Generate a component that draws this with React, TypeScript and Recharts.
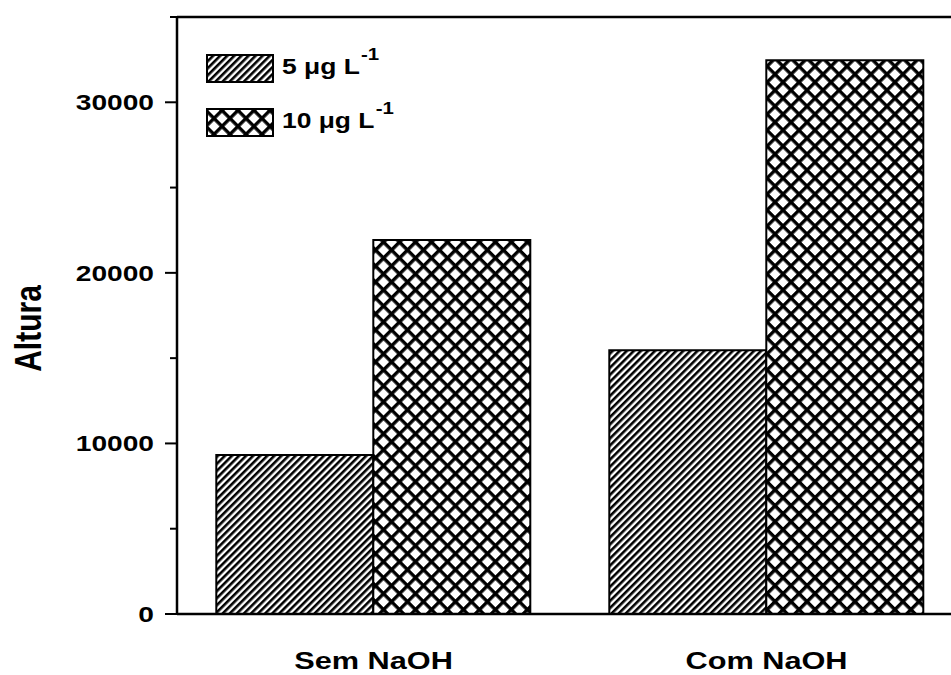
import React from 'react';
import { BarChart, Bar, XAxis, YAxis, ReferenceLine } from 'recharts';

const categories = ['Sem NaOH', 'Com NaOH'];
const conc5 = [9320, 15470];
const conc10 = [21920, 32470];
const yTicks = [0, 5000, 10000, 15000, 20000, 25000, 30000, 35000];
const yMax = 35000;
const seriesLabels = ['5 μg L', '10 μg L'];
const unitExponent = '-1';

const data = categories.map((name, i) => ({ name, c5: conc5[i], c10: conc10[i] }));

const FONT = '"Liberation Sans", Arial, sans-serif';
// the source picture is stretched sideways, so text gets a horizontal scale
const STRETCH = 1.28;

const Patterns = ({ prefix }: { prefix: string }) => (
  <defs>
    <pattern id={`${prefix}-hatch`} width={5} height={5} patternUnits="userSpaceOnUse" patternTransform="rotate(-45)">
      <rect width={5} height={5} fill="#fff" />
      <rect width={5} height={2.6} fill="#000" />
    </pattern>
    <pattern id={`${prefix}-cross`} width={11.3} height={11.3} patternUnits="userSpaceOnUse" patternTransform="rotate(45)">
      <rect width={11.3} height={11.3} fill="#fff" />
      <rect width={11.3} height={3.4} fill="#000" />
      <rect width={3.4} height={11.3} fill="#000" />
    </pattern>
  </defs>
);

const YTick = ({ x, y, payload }: any) => {
  const major = payload.value % 10000 === 0;
  return (
    <g>
      <line x1={x} x2={x - (major ? 12 : 7)} y1={y} y2={y} stroke="#000" strokeWidth={2} />
      {major && (
        <text
          transform={`translate(${x - 23},${y}) scale(${STRETCH},1)`}
          dy="0.36em"
          textAnchor="end"
          fontFamily={FONT}
          fontWeight="bold"
          fontSize={22}
          fill="#000"
        >
          {payload.value}
        </text>
      )}
    </g>
  );
};

const XTick = ({ x, y, payload }: any) => (
  <text
    transform={`translate(${x},${y + 55}) scale(${STRETCH},1)`}
    textAnchor="middle"
    fontFamily={FONT}
    fontWeight="bold"
    fontSize={24}
    fill="#000"
  >
    {payload.value}
  </text>
);

const YLabel = ({ viewBox }: any) => {
  const cy = viewBox.y + viewBox.height / 2;
  return (
    <text
      transform={`translate(41,${cy + 13}) scale(1.2,1) rotate(-90)`}
      textAnchor="middle"
      fontFamily={FONT}
      fontWeight="bold"
      fontSize={30}
      fill="#000"
    >
      Altura
    </text>
  );
};

const LegendBox = () => (
  <div style={{ position: 'absolute', left: 206, top: 54, fontFamily: FONT, fontWeight: 'bold', fontSize: 22, color: '#000' }}>
    {seriesLabels.map((label, i) => (
      <div key={label} style={{ display: 'flex', alignItems: 'center', height: 28, marginBottom: i === 0 ? 26 : 0 }}>
        <svg width={68} height={29} style={{ display: 'block' }}>
          <Patterns prefix={`lg${i}`} />
          <rect x={1} y={1} width={66} height={27} fill={`url(#lg${i}-${i === 0 ? 'hatch' : 'cross'})`} stroke="#000" strokeWidth={2} />
        </svg>
        <span
          style={{
            marginLeft: 8,
            whiteSpace: 'nowrap',
            display: 'inline-block',
            transform: 'scaleX(1.2)',
            transformOrigin: 'left center',
            lineHeight: '28px',
          }}
        >
          {label}
          <span style={{ fontSize: 17, position: 'relative', top: -14, marginLeft: 1 }}>{unitExponent}</span>
        </span>
      </div>
    ))}
  </div>
);

export default function App() {
  return (
    <div style={{ width: 951, height: 675, overflow: 'hidden', background: '#fff', position: 'relative' }}>
      <style>{'html, body { margin: 0; padding: 0; overflow: hidden; }'}</style>
      <BarChart
        width={990}
        height={675}
        data={data}
        margin={{ top: 17, right: 27, bottom: 0, left: 0 }}
        barCategoryGap="10%"
        barGap={0}
      >
        <Patterns prefix="bar" />
        <XAxis
          dataKey="name"
          height={61}
          axisLine={{ stroke: '#000', strokeWidth: 2.5 }}
          tickLine={false}
          tickSize={0}
          tickMargin={0}
          tick={<XTick />}
        />
        <YAxis
          width={177}
          domain={[0, yMax]}
          ticks={yTicks}
          interval={0}
          axisLine={{ stroke: '#000', strokeWidth: 2.5 }}
          tickLine={false}
          tickSize={0}
          tickMargin={0}
          tick={<YTick />}
          label={<YLabel />}
        />
        <YAxis yAxisId="right" orientation="right" width={0} domain={[0, yMax]} tick={false} tickLine={false} axisLine={{ stroke: '#000', strokeWidth: 2.5 }} />
        <ReferenceLine y={yMax} stroke="#000" strokeWidth={2.5} />
        <Bar dataKey="c5" fill="url(#bar-hatch)" stroke="#000" strokeWidth={2} isAnimationActive={false} />
        <Bar dataKey="c10" fill="url(#bar-cross)" stroke="#000" strokeWidth={2} isAnimationActive={false} />
      </BarChart>
      <LegendBox />
    </div>
  );
}
